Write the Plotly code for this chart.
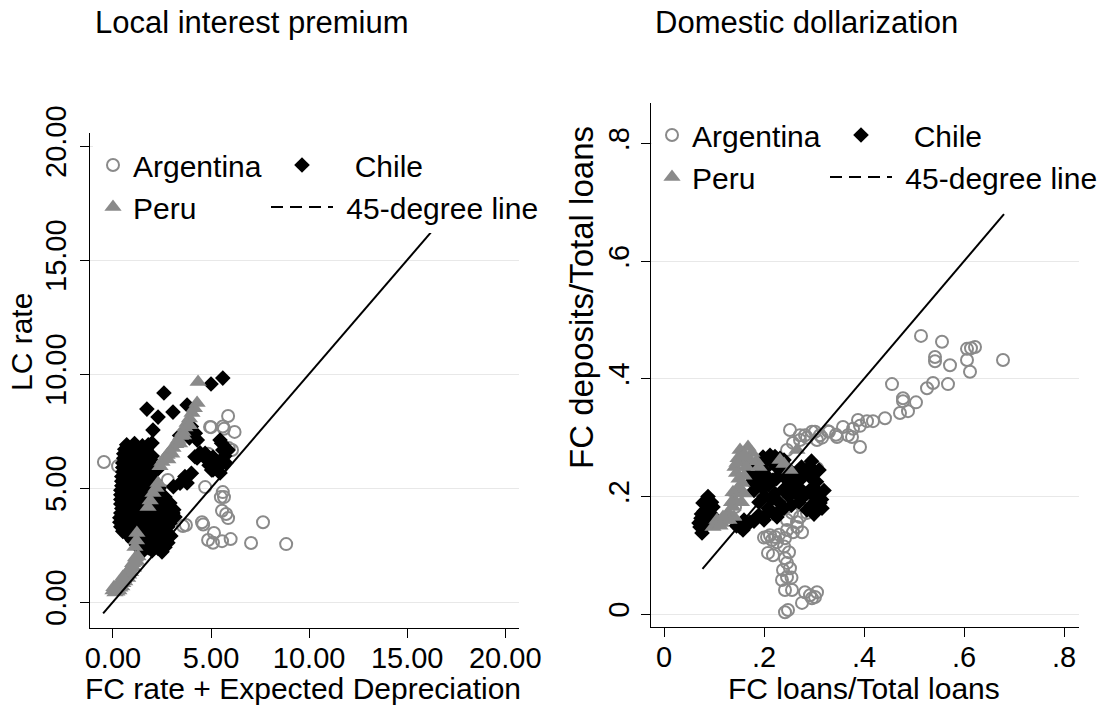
import plotly.graph_objects as go

# ---------------- data: left panel (Local interest premium) ----------------
ARG_LC_X = [-0.46, 0.26, 2.8, 4.85, 5.0, 5.6, 5.87, 5.66, 6.2, 6.07, 4.7, 5.6, 5.66, 5.5, 5.56,
            5.77, 5.87, 3.72, 3.57, 4.54, 4.6, 7.65, 5.15, 4.85, 5.1, 5.56, 6.0, 7.04, 8.83, 4.95, 5.9]
ARG_LC_Y = [6.14, 5.96, 5.35, 6.5, 7.67, 7.7, 8.16, 7.6, 7.46, 6.67, 5.04, 4.82, 4.6, 4.6, 4.0,
            3.86, 3.68, 3.38, 3.33, 3.5, 3.4, 3.5, 3.03, 2.72, 2.6, 2.67, 2.76, 2.59, 2.54, 7.68, 6.75]

CHL_LC_X = [5.6, 5.0, 2.6, 1.73, 2.3, 3.06, 3.78, 2.04, 1.99, 3.4, 3.7, 4.0, 4.2, 4.3, 3.9,
            4.29, 4.8, 5.1, 5.46, 5.6, 5.87, 5.3, 5.1, 5.46, 4.44, 4.7, 5.2, 5.54, 5.37, 4.18,
            5.03, 4.0, 3.42, 3.08, 3.67, 3.78, 5.7, 4.9, 5.75, 2.65, 2.9, 3.16, 3.06,
            0.7, 1.1, 1.5, 1.8,
            0.6, 0.9, 1.3, 1.7,
            0.55, 0.8, 1.2, 1.6, 2.0,
            0.55, 0.7, 1.1, 1.5, 1.9,
            0.5, 0.6, 1.0, 1.4, 1.8, 2.2,
            0.5, 0.8, 1.2, 1.55, 1.9, 2.25,
            0.5, 0.6, 1.0, 1.35, 1.7, 2.0,
            0.45, 0.75, 1.15, 1.5, 1.85,
            0.45, 0.55, 0.9, 1.3, 1.7, 2.1,
            0.45, 0.8, 1.2, 1.55, 1.95, 2.35,
            0.4, 0.7, 1.05, 1.4, 1.85, 2.3,
            0.4, 0.8, 1.2, 1.6, 2.0, 2.4,
            0.4, 0.55, 0.95, 1.35, 1.75, 2.2, 2.6,
            0.4, 0.5, 0.85, 1.25, 1.65, 2.05, 2.5, 2.8,
            0.45, 0.7, 1.1, 1.5, 1.9, 2.4, 2.9, 3.1,
            0.4, 0.6, 1.0, 1.4, 1.8, 2.2, 2.7, 3.0,
            0.35, 0.5, 0.9, 1.3, 1.7, 2.1, 2.6, 3.05,
            0.35, 0.75, 1.15, 1.55, 1.95, 2.45, 2.9,
            0.4, 0.6, 1.0, 1.4, 1.8, 2.3, 2.8,
            0.5, 0.9, 1.3, 1.7, 2.15, 2.6,
            0.8, 1.2, 1.6, 2.0, 2.5, 2.95,
            1.0, 1.4, 1.8, 2.2, 2.7,
            1.2, 1.6, 2.0, 2.4, 2.8,
            1.35, 1.8, 2.3, 2.65,
            1.5, 2.0, 2.5]
CHL_LC_Y = [9.82, 9.56, 9.17, 8.46, 8.11, 8.33, 8.64, 7.54, 6.97, 7.3, 7.5, 7.7, 7.4, 7.1, 7.2,
            6.32, 6.23, 5.79, 7.1, 6.67, 6.67, 6.1, 6.36, 5.66, 6.54, 6.52, 6.23, 6.96, 5.93, 6.37,
            5.79, 5.65, 5.21, 5.06, 5.5, 5.22, 6.4, 6.0, 6.1, 4.6, 4.34, 3.73, 3.9,
            6.9, 6.95, 6.85, 6.9,
            6.7, 6.72, 6.68, 6.7,
            6.5, 6.55, 6.45, 6.5, 6.4,
            6.3, 6.32, 6.28, 6.3, 6.25,
            6.1, 6.15, 6.05, 6.1, 6.12, 6.0,
            5.9, 5.92, 5.88, 5.9, 5.85, 5.8,
            5.7, 5.75, 5.65, 5.7, 5.72, 5.6,
            5.5, 5.52, 5.48, 5.5, 5.45,
            5.3, 5.35, 5.25, 5.3, 5.28, 5.32,
            5.1, 5.08, 5.1, 5.1, 5.05, 5.0,
            4.9, 4.95, 4.85, 4.9, 4.88, 4.92,
            4.7, 4.72, 4.68, 4.7, 4.7, 4.65,
            4.5, 4.55, 4.45, 4.5, 4.52, 4.48, 4.5,
            4.3, 4.32, 4.28, 4.3, 4.3, 4.28, 4.3, 4.25,
            4.1, 4.15, 4.05, 4.1, 4.12, 4.08, 4.1, 4.05,
            3.9, 3.92, 3.88, 3.9, 3.9, 3.88, 3.9, 3.85,
            3.7, 3.75, 3.65, 3.7, 3.72, 3.68, 3.7, 3.75,
            3.5, 3.52, 3.48, 3.5, 3.5, 3.48, 3.45,
            3.3, 3.35, 3.25, 3.3, 3.32, 3.28, 3.3,
            3.1, 3.12, 3.08, 3.1, 3.1, 3.05,
            2.9, 2.95, 2.85, 2.9, 2.92, 2.9,
            2.7, 2.72, 2.68, 2.7, 2.7,
            2.5, 2.55, 2.45, 2.5, 2.6,
            2.35, 2.38, 2.35, 2.4,
            2.2, 2.25, 2.2]

PER_LC_X = [4.34, 4.29, 4.15, 4.03, 3.9, 3.78, 3.67, 3.57, 3.45, 3.32, 3.2, 3.06, 2.9, 2.76,
            2.63, 2.5, 2.4, 3.0, 2.8, 3.4, 3.6, 3.9, 2.3, 2.2, 2.04, 1.9, 1.79, 1.22, 1.12, 1.2,
            0.0, 0.1, 0.2, 0.3, 0.15, 0.25, 0.35, 0.45, 0.4, 0.5, 0.6, 0.55, 0.65, 0.75,
            0.7, 0.8, 0.9, 0.85, 0.95, 1.05, 1.0, 1.1, 1.2, 1.15, 1.28, 0.05, 0.3, 0.5]
PER_LC_Y = [9.65, 8.73, 8.5, 8.29, 8.05, 7.85, 7.65, 7.46, 7.28, 7.1, 6.92, 6.75, 6.6, 6.45,
            6.3, 6.14, 5.95, 6.5, 6.25, 6.95, 7.3, 7.75, 5.22, 5.0, 4.78, 4.45, 4.17, 3.03, 2.41, 2.7,
            0.5, 0.42, 0.45, 0.5, 0.6, 0.7, 0.62, 0.68, 0.85, 0.82, 0.9, 1.0, 1.1, 1.05,
            1.25, 1.2, 1.3, 1.45, 1.55, 1.5, 1.7, 1.75, 1.8, 1.95, 2.0, 0.65, 0.8, 1.1]

LINE_LC = [-0.5, 16.2]

# ---------------- data: right panel (Domestic dollarization) ----------------
ARG_DD_X = [0.514, 0.556, 0.542, 0.606, 0.614, 0.622, 0.678, 0.542, 0.572, 0.606, 0.612, 0.456,
            0.538, 0.526, 0.568, 0.478, 0.478, 0.504, 0.472, 0.488, 0.442, 0.418, 0.406, 0.388,
            0.392, 0.378, 0.368, 0.358, 0.346, 0.328, 0.312, 0.306, 0.296, 0.282, 0.272, 0.258,
            0.392, 0.376, 0.252, 0.272, 0.286, 0.302, 0.316, 0.33, 0.344, 0.246, 0.306, 0.296,
            0.286, 0.246, 0.256, 0.246, 0.266, 0.286, 0.276, 0.258, 0.146, 0.142, 0.206, 0.216,
            0.222, 0.242, 0.226, 0.208, 0.218, 0.242, 0.246, 0.252, 0.238, 0.236, 0.246, 0.255,
            0.242, 0.256, 0.282, 0.292, 0.306, 0.302, 0.296, 0.276, 0.242, 0.248, 0.212, 0.266,
            0.272, 0.246, 0.2, 0.23, 0.24, 0.25]
ARG_DD_Y = [0.473, 0.463, 0.437, 0.451, 0.452, 0.454, 0.432, 0.43, 0.423, 0.432, 0.412, 0.391,
            0.393, 0.384, 0.391, 0.367, 0.362, 0.36, 0.342, 0.345, 0.333, 0.328, 0.328, 0.33,
            0.32, 0.315, 0.304, 0.318, 0.301, 0.311, 0.304, 0.296, 0.31, 0.304, 0.296, 0.291,
            0.284, 0.301, 0.313, 0.304, 0.3, 0.31, 0.3, 0.31, 0.305, 0.279, 0.248, 0.202,
            0.194, 0.182, 0.172, 0.16, 0.156, 0.172, 0.139, 0.139, 0.202, 0.182, 0.131, 0.126,
            0.131, 0.129, 0.122, 0.104, 0.1, 0.095, 0.087, 0.078, 0.075, 0.058, 0.063, 0.062,
            0.041, 0.041, 0.037, 0.032, 0.037, 0.029, 0.027, 0.019, 0.003, 0.007, 0.134, 0.148,
            0.165, 0.143, 0.13, 0.135, 0.115, 0.105]

CHL_DD_X = [0.078, 0.084, 0.072, 0.076, 0.092, 0.085, 0.098, 0.07, 0.08, 0.1,
            0.075, 0.09, 0.082, 0.074, 0.095, 0.088,
            0.152, 0.172, 0.186, 0.158, 0.145, 0.18, 0.165, 0.16, 0.19,
            0.198, 0.212, 0.232, 0.222, 0.205, 0.292, 0.302, 0.285, 0.172, 0.18, 0.192, 0.218,
            0.246, 0.272, 0.258, 0.238, 0.21, 0.198, 0.185, 0.298, 0.312, 0.316, 0.3, 0.278,
            0.286, 0.218, 0.226, 0.208, 0.235, 0.26, 0.2, 0.225, 0.25, 0.265, 0.23, 0.215,
            0.175, 0.29, 0.305, 0.245, 0.27, 0.28, 0.222, 0.2, 0.31,
            0.19, 0.215, 0.24, 0.255, 0.275, 0.295, 0.31, 0.32, 0.315, 0.295, 0.27, 0.255,
            0.24, 0.23, 0.205, 0.19, 0.18, 0.205, 0.225, 0.25, 0.285, 0.3, 0.2]
CHL_DD_Y = [0.189, 0.19, 0.148, 0.138, 0.172, 0.16, 0.182, 0.155, 0.175, 0.165,
            0.17, 0.18, 0.15, 0.163, 0.19, 0.2,
            0.148, 0.156, 0.165, 0.143, 0.15, 0.158, 0.152, 0.16, 0.168,
            0.267, 0.27, 0.265, 0.268, 0.262, 0.25, 0.241, 0.245, 0.248, 0.237, 0.228, 0.228,
            0.228, 0.228, 0.216, 0.211, 0.22, 0.214, 0.222, 0.216, 0.189, 0.18, 0.2, 0.199,
            0.177, 0.172, 0.165, 0.18, 0.24, 0.238, 0.245, 0.25, 0.2, 0.205, 0.19, 0.195,
            0.225, 0.235, 0.225, 0.25, 0.215, 0.24, 0.205, 0.2, 0.205,
            0.255, 0.258, 0.262, 0.235, 0.25, 0.26, 0.245, 0.21, 0.195, 0.185, 0.19, 0.185,
            0.18, 0.175, 0.17, 0.19, 0.21, 0.235, 0.23, 0.215, 0.205, 0.17, 0.16]

PER_DD_X = [0.168, 0.158, 0.148, 0.142, 0.145, 0.155, 0.176, 0.172, 0.156, 0.146, 0.15, 0.138,
            0.128, 0.122, 0.108, 0.098, 0.115, 0.13, 0.14, 0.232, 0.266, 0.252, 0.24, 0.152,
            0.146, 0.138, 0.106, 0.14, 0.16, 0.185, 0.19,
            0.16, 0.165, 0.15, 0.135, 0.125, 0.112, 0.118, 0.155, 0.16]
PER_DD_Y = [0.284, 0.274, 0.265, 0.25, 0.24, 0.258, 0.274, 0.262, 0.223, 0.206, 0.215, 0.182,
            0.172, 0.16, 0.155, 0.148, 0.155, 0.16, 0.165, 0.262, 0.279, 0.245, 0.255, 0.279,
            0.257, 0.207, 0.16, 0.195, 0.235, 0.26, 0.25,
            0.27, 0.25, 0.23, 0.19, 0.165, 0.15, 0.165, 0.19, 0.205]

LINE_DD = [0.077, 0.68]

# ---------------- styles ----------------
FONT = "Liberation Sans, Arial, sans-serif"
GRAY = "#8a8a8a"
W, H = 1106, 705
NB = "\u00a0"

arg_m = dict(symbol="circle-open", size=12, color=GRAY, line=dict(width=2, color=GRAY))
chl_m = dict(symbol="diamond", size=12, color="black", line=dict(width=0))
per_m = dict(symbol="triangle-up", size=15, color=GRAY, line=dict(width=0))

fig = go.Figure()


def add_panel(xa, ya, ax, ay, cx, cy, px, py, line, leg_a, leg_b):
    fig.add_trace(go.Scatter(x=ax, y=ay, mode="markers", marker=arg_m, name="Argentina",
                             xaxis=xa, yaxis=ya, legend=leg_a))
    fig.add_trace(go.Scatter(x=cx, y=cy, mode="markers", marker=chl_m, name=NB * 2 + "Chile",
                             xaxis=xa, yaxis=ya, legend=leg_b))
    fig.add_trace(go.Scatter(x=px, y=py, mode="markers", marker=per_m, name="Peru",
                             xaxis=xa, yaxis=ya, legend=leg_a))
    fig.add_trace(go.Scatter(x=line, y=line, mode="lines", line=dict(color="black", width=2),
                             showlegend=False, xaxis=xa, yaxis=ya))
    # legend-only entry for the dashed key
    fig.add_trace(go.Scatter(x=[None], y=[None], mode="lines",
                             line=dict(color="black", width=2, dash="12px,7px"),
                             name=NB + "45-degree line", xaxis=xa, yaxis=ya, legend=leg_b))


add_panel("x", "y", ARG_LC_X, ARG_LC_Y, CHL_LC_X, CHL_LC_Y, PER_LC_X, PER_LC_Y, LINE_LC,
          "legend", "legend2")
add_panel("x2", "y2", ARG_DD_X, ARG_DD_Y, CHL_DD_X, CHL_DD_Y, PER_DD_X, PER_DD_Y, LINE_DD,
          "legend3", "legend4")

axis_common = dict(showline=True, linecolor="black", linewidth=1.3, ticks="outside",
                   ticklen=9, tickwidth=1.3, tickcolor="black", zeroline=False,
                   tickfont=dict(family=FONT, size=29, color="black"), automargin=False)


def px2x(p):
    return p / W


def py2y(p):
    return (H - p) / H


leg_common = dict(font=dict(family=FONT, size=30, color="black"), bgcolor="white",
                  borderwidth=0, xanchor="left", yanchor="top", tracegroupgap=0,
                  xref="paper", yref="paper")

fig.update_layout(
    width=W, height=H, template="none",
    paper_bgcolor="white", plot_bgcolor="white",
    margin=dict(l=0, r=0, t=0, b=0),
    font=dict(family=FONT, size=30, color="black"),
    xaxis=dict(domain=[px2x(90), px2x(519)], range=[-1.17, 20.7], tickvals=[0, 5, 10, 15, 20],
               tickformat=".2f", showgrid=False, anchor="y", ticklabelstandoff=-5, **axis_common),
    yaxis=dict(domain=[py2y(628), py2y(133)], range=[-1.14, 20.57], tickvals=[0, 5, 10, 15, 20],
               tickformat=".2f", tickangle=-90, showgrid=True, gridcolor="#e8e8e8", gridwidth=1,
               anchor="x", ticklabelstandoff=2, **axis_common),
    xaxis2=dict(domain=[px2x(651), px2x(1079)], range=[-0.026, 0.83],
                tickvals=[0, 0.2, 0.4, 0.6, 0.8], ticktext=["0", ".2", ".4", ".6", ".8"],
                showgrid=False, anchor="y2", ticklabelstandoff=-5, **axis_common),
    yaxis2=dict(domain=[py2y(627), py2y(103)], range=[-0.022, 0.869],
                tickvals=[0, 0.2, 0.4, 0.6, 0.8], ticktext=["0", ".2", ".4", ".6", ".8"],
                tickangle=-90, showgrid=True, gridcolor="#e8e8e8", gridwidth=1,
                anchor="x2", ticklabelstandoff=0, **axis_common),
    legend=dict(x=px2x(93), y=py2y(139), itemwidth=30, **leg_common),
    legend2=dict(x=px2x(266), y=py2y(139), itemwidth=62, **leg_common),
    legend3=dict(x=px2x(652), y=py2y(109), itemwidth=30, **leg_common),
    legend4=dict(x=px2x(825), y=py2y(109), itemwidth=62, **leg_common),
    showlegend=True,
)

ann = [
    dict(text="Local interest premium", x=px2x(93), y=py2y(22), xanchor="left", yanchor="middle",
         size=31),
    dict(text="Domestic dollarization", x=px2x(653), y=py2y(22), xanchor="left", yanchor="middle",
         size=31),
    dict(text="LC rate", x=px2x(21), y=py2y(342), xanchor="center", yanchor="middle",
         textangle=-90, size=30),
    dict(text="FC deposits/Total loans", x=px2x(581), y=py2y(298), xanchor="center",
         yanchor="middle", textangle=-90, size=33),
    dict(text="FC rate + Expected Depreciation", x=px2x(303), y=py2y(688), xanchor="center",
         yanchor="middle", size=30),
    dict(text="FC loans/Total loans", x=px2x(864), y=py2y(688), xanchor="center",
         yanchor="middle", size=30),
]
for a in ann:
    s = a.pop("size")
    fig.add_annotation(xref="paper", yref="paper", showarrow=False,
                       font=dict(family=FONT, size=s, color="black"), **a)

fig.write_html("out.html", config={"displayModeBar": False},
               post_script="document.body.style.margin='0';")
